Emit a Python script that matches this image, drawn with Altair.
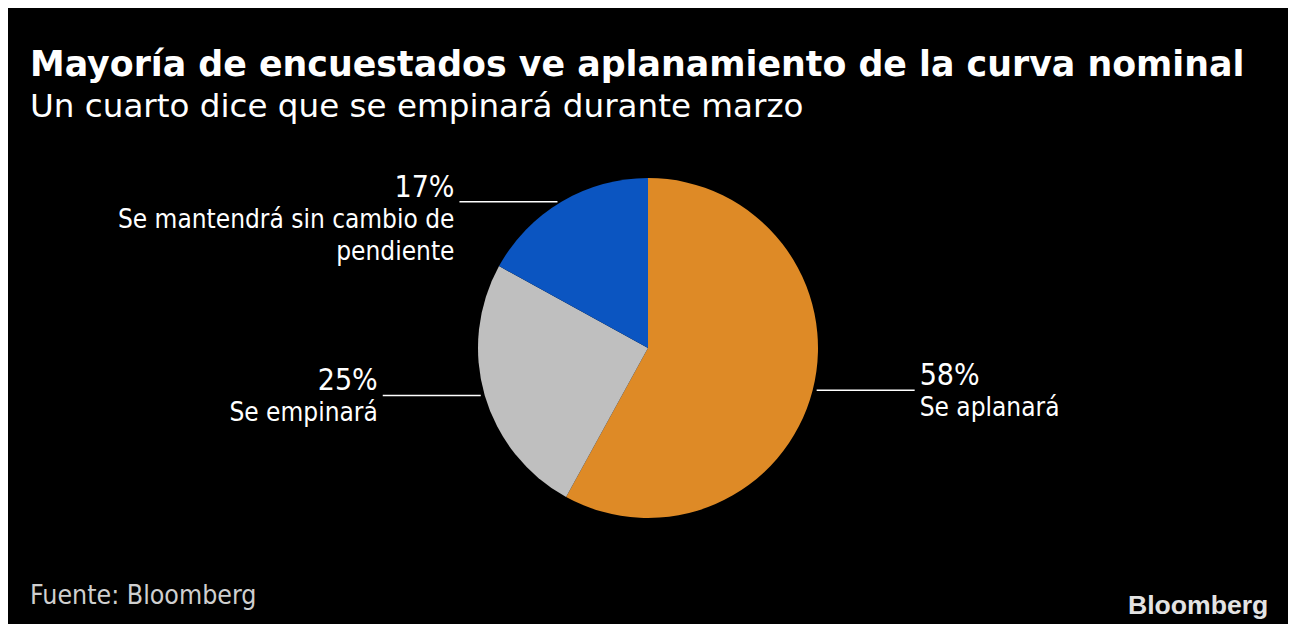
import altair as alt
import pandas as pd

# ---- data ----
categories = ["Se aplanará", "Se empinará", "Se mantendrá sin cambio de|pendiente"]
values = [58, 25, 17]
pct_labels = ["58%", "25%", "17%"]
colors = ["#DE8A26", "#BFBFBF", "#0B55C1"]

title = "Mayoría de encuestados ve aplanamiento de la curva nominal"
subtitle = "Un cuarto dice que se empinará durante marzo"
source = "Fuente: Bloomberg"
brand = "Bloomberg"

W, H = 1280, 616
CX, CY, R = 640, 340, 170

df = pd.DataFrame({
    "cat": categories,
    "value": values,
    "pct": pct_labels,
    "order": list(range(len(values))),
})

base = alt.Chart(df)

pie = base.mark_arc(radius=R, stroke=None).encode(
    theta=alt.Theta("value:Q", stack=True),
    order=alt.Order("order:Q"),
    color=alt.Color("cat:N", scale=alt.Scale(domain=categories, range=colors), legend=None),
    x=alt.value(CX),
    y=alt.value(CY),
)

geo = (
    base.transform_window(cum="sum(value)", sort=[{"field": "order"}], frame=[None, 0])
    .transform_joinaggregate(total="sum(value)")
    .transform_calculate(
        mid="2*PI*((datum.cum - datum.value/2)/datum.total)",
    )
    .transform_calculate(
        ax=f"{CX}+{R}*sin(datum.mid)",
        ay=f"{CY}-{R}*cos(datum.mid)",
    )
    .transform_calculate(
        side=f"datum.ax > {CX} ? 1 : -1",
    )
    .transform_calculate(
        x_in="datum.ax + datum.side*4",
        x_out="datum.ax + datum.side*102",
        x_text="datum.ax + datum.side*107",
        y_pct="datum.ay - 5",
        y_desc="datum.ay + 26",
    )
)

leader = geo.mark_rule(color="white", strokeWidth=1.5).encode(
    x=alt.X("x_in:Q", scale=None),
    x2=alt.X2("x_out:Q"),
    y=alt.Y("ay:Q", scale=None),
)

def labels(side, align):
    g = geo.transform_filter(f"datum.side == {side}")
    pct = g.mark_text(
        align=align, baseline="alphabetic", color="white",
        font="DejaVu Sans Condensed", fontSize=30,
    ).encode(
        x=alt.X("x_text:Q", scale=None),
        y=alt.Y("y_pct:Q", scale=None),
        text="pct:N",
    )
    desc = g.mark_text(
        align=align, baseline="alphabetic", color="white",
        font="DejaVu Sans Condensed", fontSize=26, lineBreak="|", lineHeight=32,
    ).encode(
        x=alt.X("x_text:Q", scale=None),
        y=alt.Y("y_desc:Q", scale=None),
        text="cat:N",
    )
    return pct + desc

def static_text(txt, x, y, **kw):
    return alt.Chart(pd.DataFrame({"t": [txt]})).mark_text(
        align="left", baseline="alphabetic", **kw
    ).encode(x=alt.value(x), y=alt.value(y), text="t:N")

t_title = static_text(title, 22, 68, color="white", font="DejaVu Sans", fontWeight="bold", fontSize=34.8)
t_sub = static_text(subtitle, 22, 109, color="white", font="DejaVu Sans", fontSize=32.6)
t_src = static_text(source, 22, 596, color="#CFCFCF", font="DejaVu Sans Condensed", fontSize=26.5)
t_brand = static_text(brand, 1120, 606, color="#E3E3E3", font="Liberation Sans", fontWeight="bold", fontSize=26.6)

chart = alt.layer(
    pie, leader, labels(1, "left"), labels(-1, "right"),
    t_title, t_sub, t_src, t_brand,
).properties(
    width=W, height=H, padding=0, background="black",
    autosize=alt.AutoSizeParams(type="none"),
).configure_view(stroke=None)

chart.save("out.html", embed_options={"renderer": "svg", "actions": False})
